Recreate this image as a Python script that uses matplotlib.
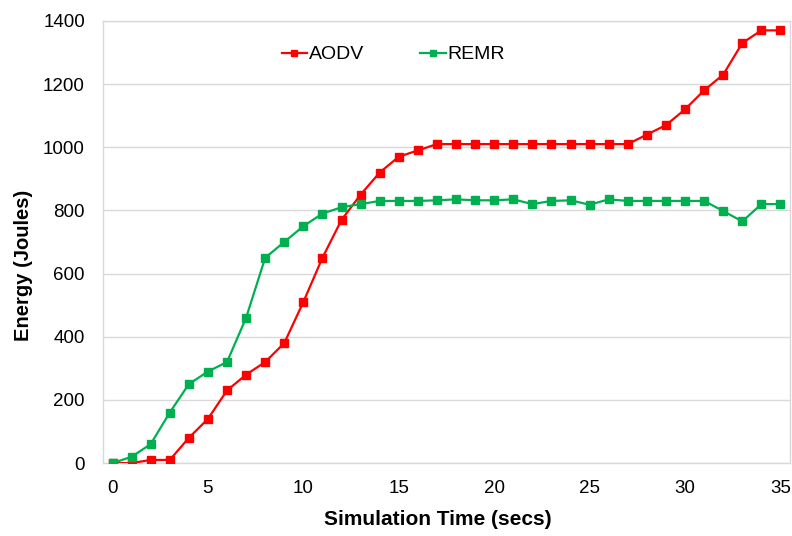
import matplotlib
matplotlib.use("Agg")
import matplotlib.pyplot as plt

time = list(range(0, 36))
aodv = [0, 0, 10, 10, 80, 140, 230, 280, 320, 380, 510, 650, 770, 850, 920, 970,
        990, 1010, 1010, 1010, 1010, 1010, 1010, 1010, 1010, 1010, 1010, 1010,
        1040, 1070, 1120, 1180, 1230, 1330, 1370, 1370]
remr = [0, 20, 60, 160, 250, 290, 320, 460, 650, 700, 750, 790, 810, 820, 830, 830,
        830, 832, 835, 832, 832, 835, 820, 830, 832, 818, 835, 830, 830, 830,
        830, 830, 798, 765, 820, 820]
xticks = [0, 5, 10, 15, 20, 25, 30, 35]
yticks = [0, 200, 400, 600, 800, 1000, 1200, 1400]

plt.rcParams['font.family'] = ['Liberation Sans', 'DejaVu Sans']

fig = plt.figure(figsize=(7.92, 5.36), dpi=100)
ax = fig.add_axes([0.130, 0.136, 0.8675, 0.825])

red = '#FF0000'
green = '#00B050'
ax.plot(time, aodv, color=red, lw=1.6, marker='s', ms=6, label='AODV', zorder=3)
ax.plot(time, remr, color=green, lw=1.6, marker='s', ms=6, label='REMR', zorder=3)

ax.set_xlim(-0.5, 35.5)
ax.set_ylim(0, 1400)
ax.set_xticks(xticks)
ax.set_yticks(yticks)
ax.tick_params(axis='both', length=0, labelsize=13.5)
ax.tick_params(axis='x', pad=12)
ax.tick_params(axis='y', pad=13)
ax.grid(axis='y', color='#D9D9D9', lw=1)
ax.set_axisbelow(True)
for s in ax.spines.values():
    s.set_color('#D9D9D9')
    s.set_linewidth(1)

ax.set_xlabel('Simulation Time (secs)', fontsize=15, fontweight='bold')
ax.set_ylabel('Energy (Joules)', fontsize=14.5, fontweight='bold')
ax.xaxis.set_label_coords(0.4876, -0.106)
ax.yaxis.set_label_coords(-0.102, 0.448)

ax.legend(loc='center left', bbox_to_anchor=(0.26, 0.924), ncol=2, frameon=False,
          fontsize=14, handlelength=1.3, columnspacing=2.9, handletextpad=0.1,
          borderpad=0, borderaxespad=0, markerscale=0.8)

fig.savefig('out.png', dpi=100)
